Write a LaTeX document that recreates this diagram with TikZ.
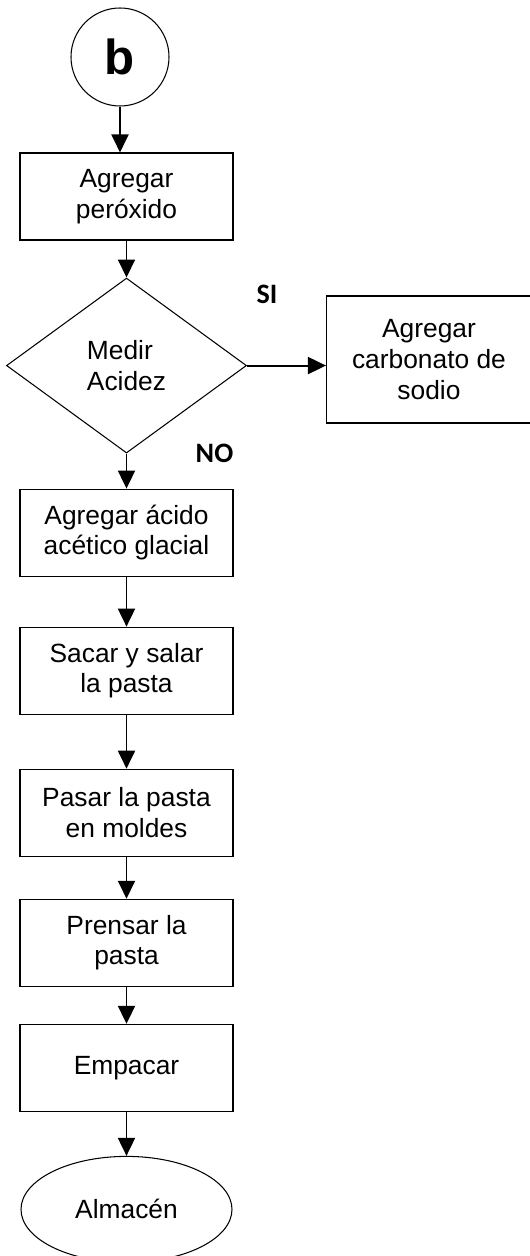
\documentclass[tikz,border=0pt]{standalone}
\usepackage{fontspec}
\setmainfont{Liberation Sans}
\newfontfamily\answerfont{Carlito}
\usepackage{tikz}
\usetikzlibrary{shapes,arrows.meta,positioning}

\begin{document}
\begin{tikzpicture}[
    node distance=0.8cm,
    process/.style={rectangle, draw=black, line width=0.6pt, minimum width=4.26cm, minimum height=1.74cm, align=center, font=\fontsize{15}{17.5}\selectfont},
    decision/.style={diamond, draw=black, line width=0.6pt, minimum width=4.8cm, minimum height=3.5cm, aspect=1.37, align=left, font=\fontsize{15}{17.5}\selectfont},
    connector/.style={circle, draw=black, line width=0.6pt, minimum size=1.96cm, font=\fontsize{28}{30}\selectfont\bfseries},
    terminal/.style={ellipse, draw=black, line width=0.6pt, minimum width=4.22cm, minimum height=2.12cm, font=\fontsize{15}{17.5}\selectfont},
    arrow/.style={-{Triangle[width=0.34cm,length=0.36cm]}, line width=1.1pt},
    answer/.style={font=\answerfont\bfseries\fontsize{16}{18}\selectfont}
]
\useasboundingbox (0,0) rectangle (10.6,-25.12);

% Entry connector and first step
\node[connector] (b) at (2.4, -1.14) {b};
\node[process] (peroxido) at (2.53, -3.93) {Agregar\\peróxido};

% Decision
\node[decision, below=0.74cm of peroxido] (acidez) {Medir\\Acidez};
\node[process, minimum width=4.1cm, minimum height=2.54cm] (carbonato) at (8.58, -7.19) {Agregar\\carbonato de\\sodio};
\node[answer] (si) at (5.34, -5.88) {SI};
\node[answer] (no) at (4.29, -9.06) {NO};

% Main line
\node[process, below=0.7cm of acidez] (acetico) {Agregar ácido\\acético glacial};
\node[process, below=1.0cm of acetico] (salar) {Sacar y salar\\la pasta};
\node[process, below=1.08cm of salar] (moldes) {Pasar la pasta\\en moldes};
\node[process, below=0.84cm of moldes] (prensar) {Prensar la\\pasta};
\node[process, below=0.74cm of prensar] (empacar) {Empacar};
\node[terminal, below=0.88cm of empacar] (almacen) {Almacén};

% Arrows
\draw[arrow] (b.south) -- (b.south |- peroxido.north);
\draw[arrow] (peroxido) -- (acidez);
\draw[arrow] (acidez.east) -- (acidez.east -| carbonato.west);
\draw[arrow] (acidez) -- (acetico);
\draw[arrow] (acetico) -- (salar);
\draw[arrow] (salar) -- (moldes);
\draw[arrow] (moldes) -- (prensar);
\draw[arrow] (prensar) -- (empacar);
\draw[arrow] (empacar) -- (almacen);

\end{tikzpicture}
\end{document}
